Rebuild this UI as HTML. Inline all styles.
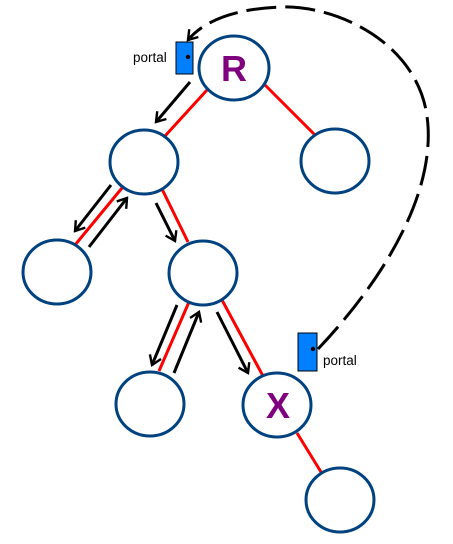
<!DOCTYPE html>
<html><head><meta charset="utf-8"><style>
html,body{margin:0;padding:0;background:#fff;width:453px;height:544px;overflow:hidden}
svg{display:block}
</style></head><body>
<svg width="453" height="544" viewBox="0 0 453 544" font-family="Liberation Sans, sans-serif">
<defs>
<marker id="ah" markerWidth="12" markerHeight="14" refX="10" refY="7" orient="auto" markerUnits="userSpaceOnUse"><path d="M1,1 L10,7 L1,13" fill="none" stroke="#000" stroke-width="2.4"/></marker>
</defs>
<g stroke="#ff0000" stroke-width="3">
<line x1="207" y1="90" x2="165" y2="136"/>
<line x1="264" y1="84" x2="315" y2="135"/>
<line x1="122" y1="188" x2="75" y2="245"/>
<line x1="162" y1="189" x2="188" y2="242"/>
<line x1="189" y1="302" x2="159" y2="371"/>
<line x1="222" y1="300" x2="263" y2="376"/>
<line x1="297" y1="433" x2="321" y2="472"/>
</g>
<g fill="#fff" stroke="#00427f" stroke-width="3">
<ellipse cx="234" cy="68" rx="35" ry="32"/>
<ellipse cx="144" cy="162" rx="34" ry="32"/>
<ellipse cx="335" cy="161" rx="34" ry="32"/>
<ellipse cx="57" cy="272" rx="34" ry="32"/>
<ellipse cx="203" cy="273" rx="34" ry="32"/>
<ellipse cx="150" cy="404" rx="34" ry="32"/>
<ellipse cx="277" cy="405" rx="34" ry="32"/>
<ellipse cx="340" cy="500" rx="34" ry="32"/>
</g>
<text x="234" y="81" text-anchor="middle" font-size="36" font-weight="bold" fill="#7f007f">R</text>
<text x="278" y="418" text-anchor="middle" font-size="36" font-weight="bold" fill="#7f007f">X</text>
<g stroke="#000" stroke-width="3" marker-end="url(#ah)">
<line x1="190" y1="82" x2="156" y2="122"/>
<line x1="111" y1="185" x2="75" y2="231"/>
<line x1="89" y1="247" x2="127" y2="198"/>
<line x1="156" y1="203" x2="175" y2="241"/>
<line x1="177" y1="305" x2="152" y2="365"/>
<line x1="174" y1="373" x2="199" y2="312"/>
<line x1="217" y1="312" x2="248" y2="373"/>
</g>
<path d="M318,349 C388,275 440,185 426,110 C412,40 335,5 280,7 C235,9 205,20 188,40" fill="none" stroke="#000" stroke-width="3" stroke-dasharray="30,9" marker-end="url(#ah)"/>
<rect x="176" y="42" width="17" height="32" fill="#0080ff" stroke="#000" stroke-width="1"/>
<circle cx="188" cy="57" r="2.2" fill="#000"/>
<text x="133" y="62" font-size="13.5" fill="#000">portal</text>
<rect x="298" y="333" width="19" height="38" fill="#0080ff" stroke="#000" stroke-width="1"/>
<circle cx="313" cy="349" r="2.2" fill="#000"/>
<text x="323" y="365" font-size="13.5" fill="#000">portal</text>
</svg>
</body></html>
